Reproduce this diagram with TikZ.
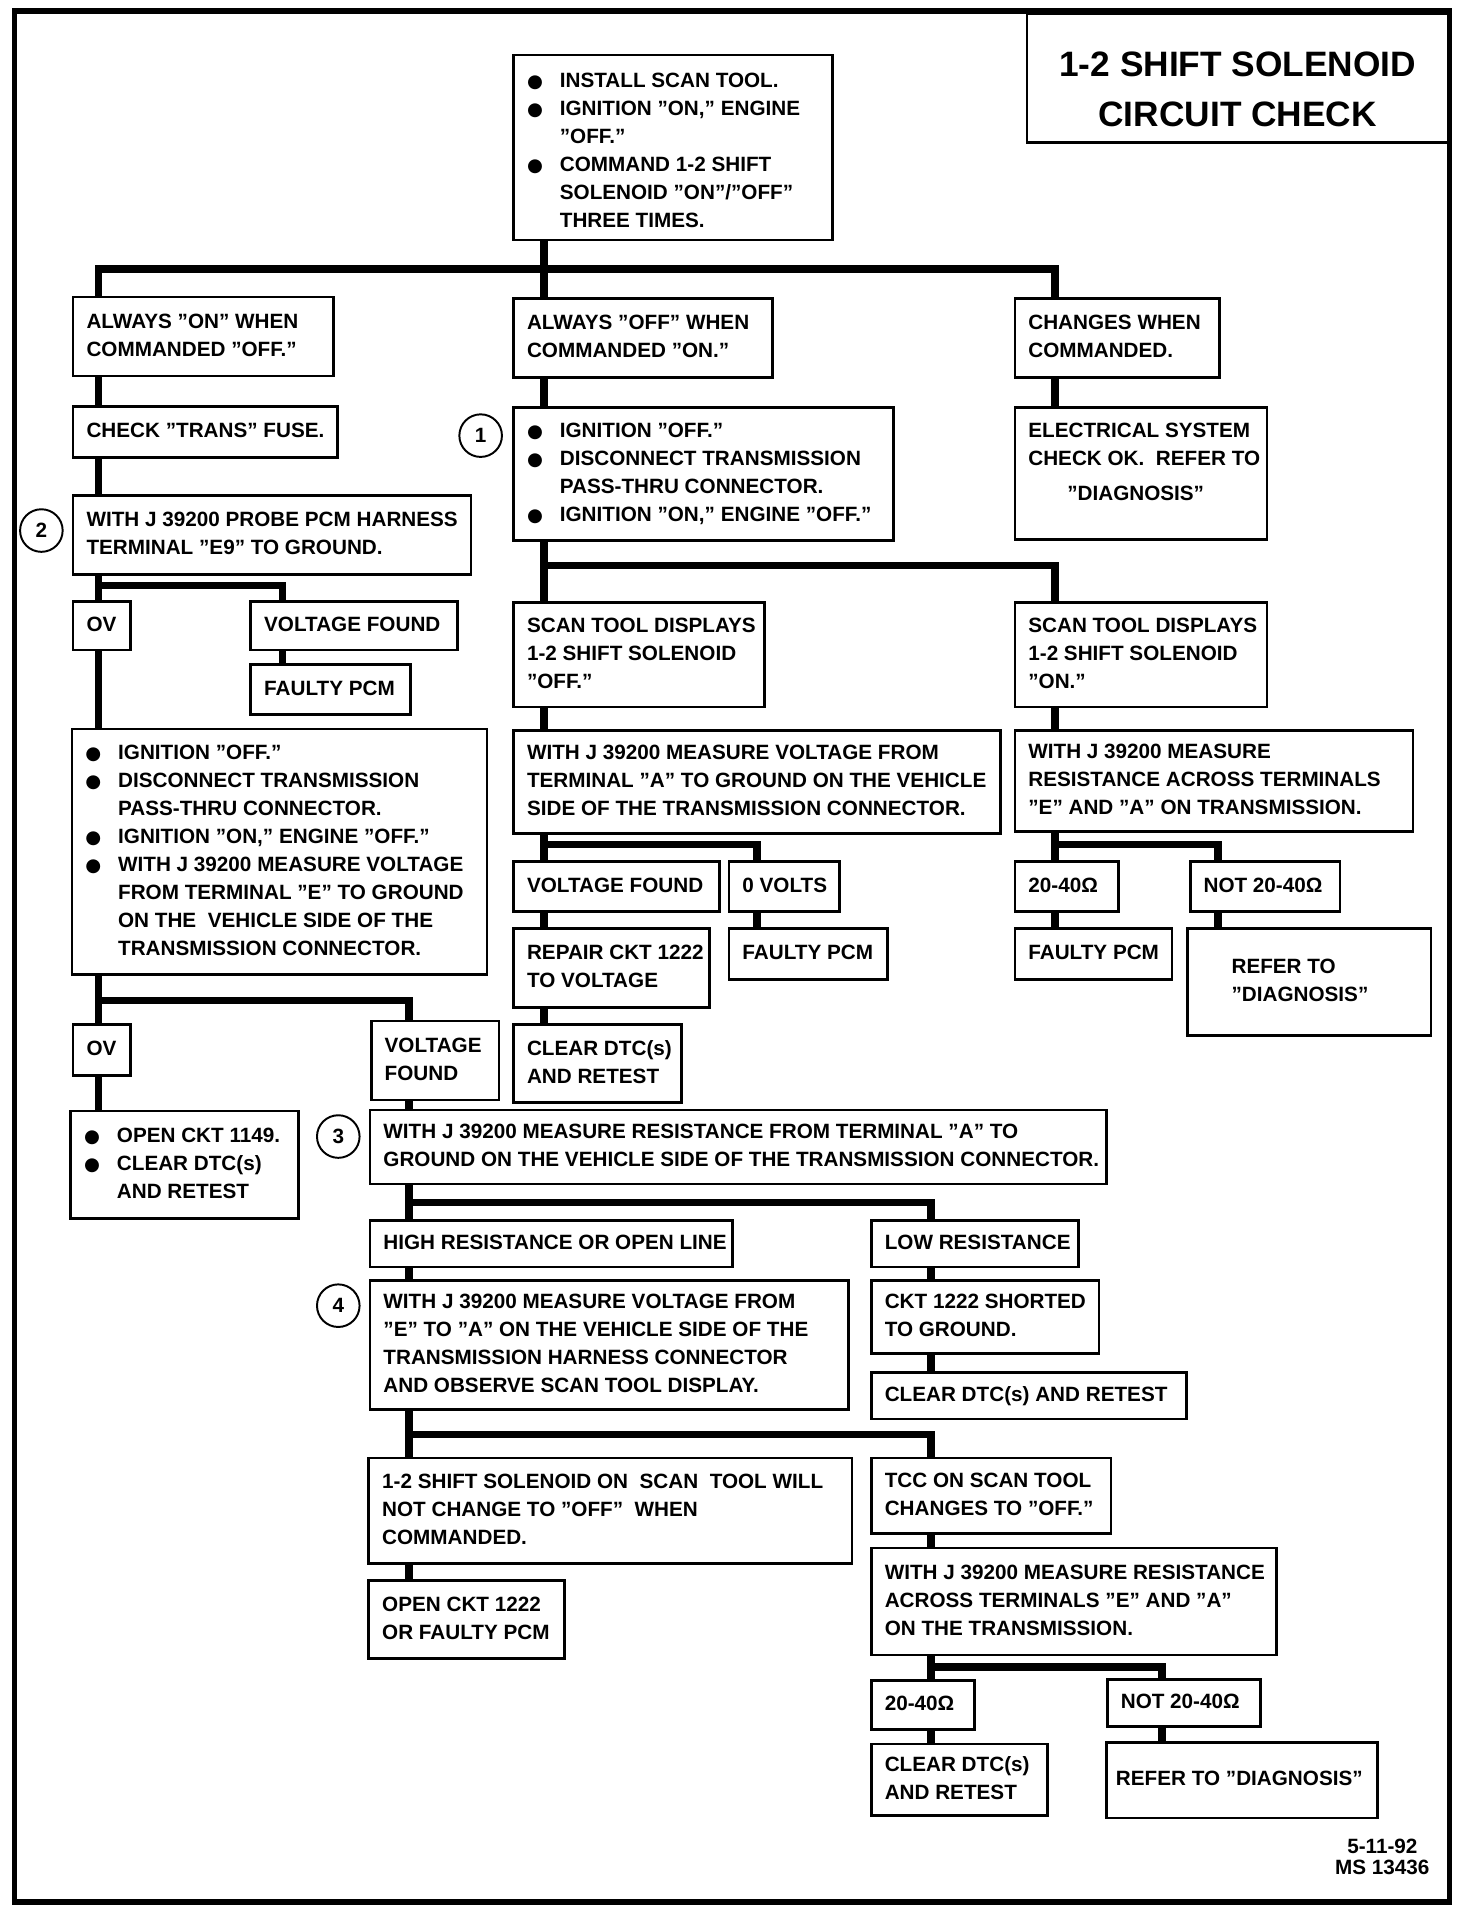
\documentclass[tikz,border=0pt]{standalone}
\usepackage{fontspec}
\setmainfont{Liberation Sans}
\newfontfamily\djv{DejaVu Sans}
\usetikzlibrary{backgrounds}
\newcommand\myb{\makebox[27pt][l]{{\djv\fontsize{15pt}{15pt}\selectfont ●}}}
\newcommand\myind{\hspace*{27pt}}
\newcommand\mybox[6]{\node[box,minimum width=#4pt,minimum height=#5pt] (#1) at (#2,#3) {\makebox[\dimexpr#4pt-22pt\relax][l]{\begin{tabular}{@{}l@{}}#6\end{tabular}}};}
\begin{document}
\begin{tikzpicture}[x=1pt,y=-1pt,
  font=\fontsize{17pt}{23pt}\selectfont\bfseries,
  box/.style={draw,rectangle,line width=2.2pt,anchor=north west,inner xsep=11pt,inner ysep=0pt},
  conn/.style={line width=6pt,line join=miter},
  num/.style={circle,draw,line width=1.6pt,minimum size=35pt,inner sep=0pt}]
\useasboundingbox (0,0) rectangle (1210,1568);
\draw[line width=4.5pt] (12,9) rectangle (1191,1563);

% column and bus coordinates
\coordinate (cL) at (81,0);
\coordinate (cM) at (447,0);
\coordinate (cR) at (867,0);
\coordinate (cV) at (232,0);
\coordinate (cZ) at (622,0);
\coordinate (cN) at (1001,0);
\coordinate (cC) at (336,0);
\coordinate (cRR) at (765,0);
\coordinate (cNB) at (955,0);
\coordinate (y1) at (0,221);
\coordinate (y2) at (0,481);
\coordinate (y3) at (0,465);
\coordinate (y4) at (0,694);
\coordinate (y5) at (0,694);
\coordinate (y6) at (0,822);
\coordinate (y7) at (0,988);
\coordinate (y8) at (0,1179);
\coordinate (y9) at (0,1370);

% title
\node[box,minimum width=346pt,minimum height=106pt,inner xsep=0pt,font=\fontsize{29pt}{41pt}\selectfont\bfseries] (title) at (843,10) {\raisebox{-11pt}[\height][\depth]{\begin{tabular}{@{}c@{}}1-2 SHIFT SOLENOID\\CIRCUIT CHECK\end{tabular}}};

% boxes
\mybox{top}{421}{44}{262}{152}{\raisebox{-4pt}[\height][\depth]{\begin{tabular}{@{}l@{}}\myb INSTALL SCAN TOOL.\\ \myb IGNITION "ON," ENGINE\\ \myind "OFF."\\ \myb COMMAND 1-2 SHIFT\\ \myind SOLENOID "ON"/"OFF"\\ \myind THREE TIMES.\end{tabular}}}
\mybox{aon}{59}{243}{214}{65}{ALWAYS "ON" WHEN\\ COMMANDED "OFF."}
\mybox{aoff}{421}{244}{213}{65}{ALWAYS "OFF" WHEN\\ COMMANDED "ON."}
\mybox{chg}{833}{244}{168}{65}{CHANGES WHEN\\ COMMANDED.}
\mybox{trans}{59}{333}{217}{42}{CHECK "TRANS" FUSE.}
\mybox{elec}{833}{334}{207}{108}{\raisebox{8pt}[\height][\depth]{\begin{tabular}{@{}l@{}}ELECTRICAL SYSTEM\\ CHECK OK.\ \ REFER TO\\[6pt] \hspace*{32pt}"DIAGNOSIS"\end{tabular}}}
\mybox{ign}{421}{334}{312}{109}{\myb IGNITION "OFF."\\ \myb DISCONNECT TRANSMISSION\\ \myind PASS-THRU CONNECTOR.\\ \myb IGNITION "ON," ENGINE "OFF."}
\mybox{probe}{59}{406}{327}{65}{WITH J 39200 PROBE PCM HARNESS\\ TERMINAL "E9" TO GROUND.}
\mybox{ovA}{59}{493}{47}{40}{OV}
\mybox{vfA}{205}{493}{170}{40}{VOLTAGE FOUND}
\mybox{fpA}{205}{545}{131}{41}{FAULTY PCM}
\mybox{big}{58}{598}{341}{202}{\myb IGNITION "OFF."\\ \myb DISCONNECT TRANSMISSION\\ \myind PASS-THRU CONNECTOR.\\ \myb IGNITION "ON," ENGINE "OFF."\\ \myb WITH J 39200 MEASURE VOLTAGE\\ \myind FROM TERMINAL "E" TO GROUND\\ \myind ON THE\ \ VEHICLE SIDE OF THE\\ \myind TRANSMISSION CONNECTOR.}
\mybox{ovB}{59}{841}{47}{42}{OV}
\mybox{vfB}{304}{838}{105}{65}{VOLTAGE\\ FOUND}
\mybox{open1149}{57}{912}{187}{88}{\myb OPEN CKT 1149.\\ \myb CLEAR DTC(s)\\ \myind AND RETEST}
\mybox{res3}{303}{911}{605}{61}{WITH J 39200 MEASURE RESISTANCE FROM TERMINAL "A" TO\\ GROUND ON THE VEHICLE SIDE OF THE TRANSMISSION CONNECTOR.}
\mybox{high}{303}{1002}{298}{38}{HIGH RESISTANCE OR OPEN LINE}
\mybox{low}{715}{1002}{170}{38}{LOW RESISTANCE}
\mybox{volt4}{303}{1051}{393}{106}{WITH J 39200 MEASURE VOLTAGE FROM\\ "E" TO "A" ON THE VEHICLE SIDE OF THE\\ TRANSMISSION HARNESS CONNECTOR\\ AND OBSERVE SCAN TOOL DISPLAY.}
\mybox{short}{715}{1051}{187}{60}{CKT 1222 SHORTED\\ TO GROUND.}
\mybox{clrC}{715}{1127}{259}{38}{CLEAR DTC(s) AND RETEST}
\mybox{shift}{302}{1197}{397}{87}{1-2 SHIFT SOLENOID ON\ \ SCAN\ \ TOOL WILL\\ NOT CHANGE TO "OFF"\ \ WHEN\\ COMMANDED.}
\mybox{tcc}{715}{1197}{197}{62}{TCC ON SCAN TOOL\\ CHANGES TO "OFF."}
\mybox{open1222}{302}{1298}{161}{64}{OPEN CKT 1222\\ OR FAULTY PCM}
\mybox{measE}{715}{1271}{333}{88}{WITH J 39200 MEASURE RESISTANCE\\ ACROSS TERMINALS "E" AND "A"\\ ON THE TRANSMISSION.}
\mybox{okB}{715}{1380}{85}{40}{20-40Ω}
\mybox{notB}{909}{1379}{126}{39}{NOT 20-40Ω}
\mybox{clrD}{715}{1432}{145}{59}{CLEAR DTC(s)\\ AND RETEST}
\mybox{refB}{908}{1431}{223}{62}{\hspace*{-3pt}REFER TO "DIAGNOSIS"}
\mybox{soff}{421}{494}{206}{86}{SCAN TOOL DISPLAYS\\ 1-2 SHIFT SOLENOID\\ "OFF."}
\mybox{son}{833}{494}{207}{86}{SCAN TOOL DISPLAYS\\ 1-2 SHIFT SOLENOID\\ "ON."}
\mybox{vmeas}{421}{599}{400}{85}{WITH J 39200 MEASURE VOLTAGE FROM\\ TERMINAL "A" TO GROUND ON THE VEHICLE\\ SIDE OF THE TRANSMISSION CONNECTOR.}
\mybox{rmeas}{833}{599}{327}{83}{WITH J 39200 MEASURE\\ RESISTANCE ACROSS TERMINALS\\ "E" AND "A" ON TRANSMISSION.}
\mybox{vfC}{421}{707}{169}{41}{VOLTAGE FOUND}
\mybox{zero}{598}{707}{91}{41}{0 VOLTS}
\mybox{repair}{421}{762}{161}{65}{REPAIR CKT 1222\\ TO VOLTAGE}
\mybox{fpB}{598}{762}{130}{42}{FAULTY PCM}
\mybox{clrB}{421}{841}{138}{64}{CLEAR DTC(s)\\ AND RETEST}
\mybox{okA}{833}{707}{85}{41}{20-40Ω}
\mybox{notA}{977}{707}{123}{41}{NOT 20-40Ω}
\mybox{fpC}{833}{762}{129}{42}{FAULTY PCM}
\mybox{refA}{975}{762}{200}{88}{\hspace*{25pt}REFER TO\\ \hspace*{25pt}"DIAGNOSIS"}

% numbered circles
\node[num] (n1) at (395,358) {1};
\node[num] (n2) at (34,436) {2};
\node[num] (n3) at (278,934) {3};
\node[num] (n4) at (278,1073) {4};

% footer
\node[align=center,inner sep=0pt,font=\fontsize{17pt}{18pt}\selectfont\bfseries] (foot) at (1136,1526) {5-11-92\\MS 13436};

\begin{pgfonlayer}{background}
\draw[conn] (top.south -| cM) -- (aoff.north -| cM);
\draw[conn] (aon.north -| cL) -- (cL |- y1) -- (cR |- y1) -- (chg.north -| cR);
\draw[conn] (aon.south -| cL) -- (trans.north -| cL);
\draw[conn] (trans.south -| cL) -- (probe.north -| cL);
\draw[conn] (probe.south -| cL) -- (ovA.north -| cL);
\draw[conn] (cL |- y2) -- (cV |- y2) -- (vfA.north -| cV);
\draw[conn] (vfA.south -| cV) -- (fpA.north -| cV);
\draw[conn] (ovA.south -| cL) -- (big.north -| cL);
\draw[conn] (big.south -| cL) -- (ovB.north -| cL);
\draw[conn] (cL |- y6) -- (cC |- y6) -- (vfB.north -| cC);
\draw[conn] (ovB.south -| cL) -- (open1149.north -| cL);
\draw[conn] (vfB.south -| cC) -- (res3.north -| cC);
\draw[conn] (res3.south -| cC) -- (high.north -| cC);
\draw[conn] (cC |- y7) -- (cRR |- y7) -- (low.north -| cRR);
\draw[conn] (high.south -| cC) -- (volt4.north -| cC);
\draw[conn] (low.south -| cRR) -- (short.north -| cRR);
\draw[conn] (short.south -| cRR) -- (clrC.north -| cRR);
\draw[conn] (volt4.south -| cC) -- (shift.north -| cC);
\draw[conn] (cC |- y8) -- (cRR |- y8) -- (tcc.north -| cRR);
\draw[conn] (shift.south -| cC) -- (open1222.north -| cC);
\draw[conn] (tcc.south -| cRR) -- (measE.north -| cRR);
\draw[conn] (measE.south -| cRR) -- (okB.north -| cRR);
\draw[conn] (cRR |- y9) -- (cNB |- y9) -- (notB.north -| cNB);
\draw[conn] (okB.south -| cRR) -- (clrD.north -| cRR);
\draw[conn] (notB.south -| cNB) -- (refB.north -| cNB);
\draw[conn] (aoff.south -| cM) -- (ign.north -| cM);
\draw[conn] (ign.south -| cM) -- (soff.north -| cM);
\draw[conn] (cM |- y3) -- (cR |- y3) -- (son.north -| cR);
\draw[conn] (chg.south -| cR) -- (elec.north -| cR);
\draw[conn] (soff.south -| cM) -- (vmeas.north -| cM);
\draw[conn] (son.south -| cR) -- (rmeas.north -| cR);
\draw[conn] (vmeas.south -| cM) -- (vfC.north -| cM);
\draw[conn] (cM |- y4) -- (cZ |- y4) -- (zero.north -| cZ);
\draw[conn] (vfC.south -| cM) -- (repair.north -| cM);
\draw[conn] (repair.south -| cM) -- (clrB.north -| cM);
\draw[conn] (zero.south -| cZ) -- (fpB.north -| cZ);
\draw[conn] (rmeas.south -| cR) -- (okA.north -| cR);
\draw[conn] (cR |- y5) -- (cN |- y5) -- (notA.north -| cN);
\draw[conn] (okA.south -| cR) -- (fpC.north -| cR);
\draw[conn] (notA.south -| cN) -- (refA.north -| cN);
\end{pgfonlayer}
\end{tikzpicture}
\end{document}
